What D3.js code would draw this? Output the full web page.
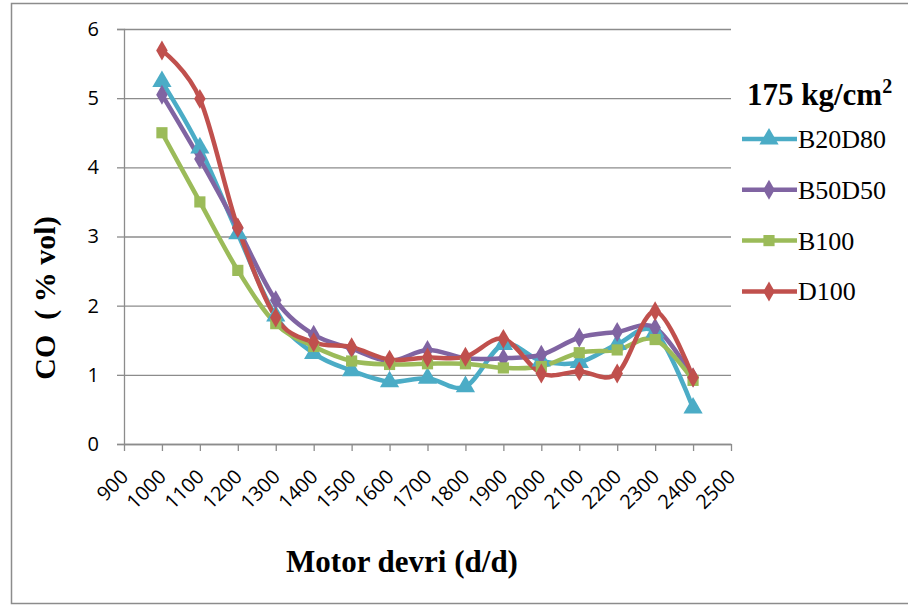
<!DOCTYPE html>
<html>
<head>
<meta charset="utf-8">
<script src="https://cdn.jsdelivr.net/npm/d3@7"></script>
<style>
  body { margin: 0; background: #fff; }
  .serif { font-family: "Liberation Serif", "DejaVu Serif", serif; }
  .sans { font-family: "Open Sans", "Liberation Sans", sans-serif; }
</style>
</head>
<body>
<div id="chart"></div>
<script>
// Data
const rpm = [1000, 1100, 1200, 1300, 1400, 1500, 1600, 1700, 1800, 1900, 2000, 2100, 2200, 2300, 2400];
const b20d80 = [5.24, 4.28, 3.04, 1.85, 1.31, 1.06, 0.9, 0.95, 0.83, 1.44, 1.2, 1.18, 1.44, 1.62, 0.52];
const b50d50 = [5.05, 4.12, 3.12, 2.08, 1.58, 1.38, 1.2, 1.36, 1.24, 1.24, 1.29, 1.54, 1.62, 1.68, 0.96];
const b100 = [4.5, 3.5, 2.51, 1.74, 1.41, 1.2, 1.15, 1.16, 1.16, 1.1, 1.12, 1.32, 1.36, 1.51, 0.92];
const d100 = [5.69, 4.99, 3.13, 1.83, 1.47, 1.4, 1.22, 1.25, 1.26, 1.52, 1.02, 1.05, 1.02, 1.92, 0.96];
const seriesNames = ["B20D80", "B50D50", "B100", "D100"];
const seriesColors = ["#4bacc6", "#8064a2", "#9bbb59", "#c0504d"];
const xTicks = d3.range(900, 2501, 100);
const yTicks = [0, 1, 2, 3, 4, 5, 6];

const W = 908, H = 606;
const plot = { left: 124, right: 731, top: 29, bottom: 444 };

const svg = d3.select("#chart").append("svg")
    .attr("width", W)
    .attr("height", H);

// chart border
svg.append("rect")
    .attr("x", 11.5).attr("y", 3.5)
    .attr("width", 910).attr("height", 600)
    .attr("fill", "none")
    .attr("stroke", "#8c8c8c")
    .attr("stroke-width", 1.5);

const x = d3.scaleLinear().domain([900, 2500]).range([plot.left, plot.right]);
const y = d3.scaleLinear().domain([0, 6]).range([plot.bottom, plot.top]);

// gridlines + y axis
const yAxis = svg.append("g")
    .attr("transform", `translate(${plot.left},0)`)
    .call(d3.axisLeft(y).tickValues(yTicks).tickSize(7).tickFormat(d3.format("d")));
yAxis.attr("font-family", null).attr("font-size", null);
yAxis.select(".domain").attr("stroke", "#8c8c8c").attr("stroke-width", 1.3);
yAxis.selectAll(".tick line").attr("stroke", "#8c8c8c").attr("stroke-width", 1.3);
yAxis.selectAll(".tick").append("line")
    .attr("x1", 0).attr("x2", plot.right - plot.left)
    .attr("stroke", "#8c8c8c").attr("stroke-width", 1.3);
yAxis.selectAll(".tick text")
    .attr("class", "sans")
    .attr("x", -25)
    .attr("fill", "#000")
    .attr("font-size", 20);

// x axis
const xAxis = svg.append("g")
    .attr("transform", `translate(0,${plot.bottom})`)
    .call(d3.axisBottom(x).tickValues(xTicks).tickSize(7).tickSizeOuter(0).tickFormat(d3.format("d")));
xAxis.attr("font-family", null).attr("font-size", null);
xAxis.select(".domain").attr("stroke", "#8c8c8c").attr("stroke-width", 1.3);
xAxis.selectAll(".tick line").attr("stroke", "#8c8c8c").attr("stroke-width", 1.3);
xAxis.selectAll(".tick text")
    .attr("class", "sans")
    .attr("fill", "#000")
    .attr("y", 0).attr("dy", 0)
    .attr("text-anchor", "end")
    .attr("transform", "translate(5,34) rotate(-45)")
    .attr("font-size", 20);

// series
const allSeries = [b20d80, b50d50, b100, d100];
const line = d3.line()
    .x((d, i) => x(rpm[i]))
    .y(d => y(d))
    .curve(d3.curveCatmullRom.alpha(0));

const symbols = [d3.symbolTriangle, d3.symbolDiamond, d3.symbolSquare, d3.symbolDiamond];
const symSizes = [160, 115, 125, 115];

allSeries.forEach((vals, s) => {
    svg.append("path")
        .datum(vals)
        .attr("d", line)
        .attr("fill", "none")
        .attr("stroke", seriesColors[s])
        .attr("stroke-width", 4.5)
        .attr("stroke-linejoin", "round");
});
allSeries.forEach((vals, s) => {
    svg.selectAll(".m" + s)
        .data(vals)
        .enter().append("path")
        .attr("transform", (d, i) => `translate(${x(rpm[i])},${y(d)})`)
        .attr("d", d3.symbol().type(symbols[s]).size(symSizes[s]))
        .attr("fill", seriesColors[s]);
});

// axis titles
svg.append("text")
    .attr("class", "serif")
    .attr("x", 402).attr("y", 572)
    .attr("text-anchor", "middle")
    .attr("font-weight", "bold")
    .attr("font-size", 31)
    .text("Motor devri (d/d)");

svg.append("text")
    .attr("class", "serif")
    .attr("transform", "translate(55,298) rotate(-90)")
    .attr("text-anchor", "middle")
    .attr("font-weight", "bold")
    .attr("font-size", 30)
    .attr("xml:space", "preserve")
    .text("CO  ( % vol)");

// legend
const legendTitle = svg.append("text")
    .attr("class", "serif")
    .attr("x", 747).attr("y", 105)
    .attr("font-weight", "bold")
    .attr("font-size", 31)
    .text("175 kg/cm");
legendTitle.append("tspan")
    .attr("dy", -12)
    .attr("font-size", 20)
    .text("2");

const legend = svg.selectAll(".legend")
    .data(seriesNames)
    .enter().append("g")
    .attr("class", "legend")
    .attr("transform", (d, i) => `translate(0,${139 + i * 50.8})`);

legend.append("line")
    .attr("x1", 742).attr("x2", 797)
    .attr("stroke", (d, i) => seriesColors[i])
    .attr("stroke-width", 4.5);
legend.append("path")
    .attr("transform", "translate(769,0)")
    .attr("d", (d, i) => d3.symbol().type(symbols[i]).size(symSizes[i])())
    .attr("fill", (d, i) => seriesColors[i]);
legend.append("text")
    .attr("class", "serif")
    .attr("x", 798).attr("y", 9)
    .attr("font-size", 26)
    .text(d => d);
</script>
</body>
</html>
